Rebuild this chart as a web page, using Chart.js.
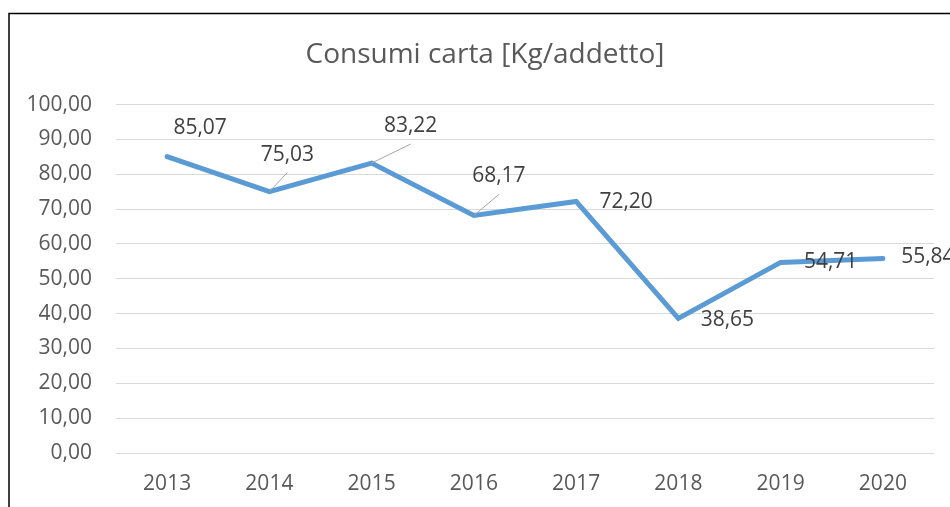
<!DOCTYPE html>
<html>
<head>
<meta charset="utf-8">
<script src="https://cdn.jsdelivr.net/npm/chart.js@4/dist/chart.umd.min.js"></script>
<style>
  html, body { margin: 0; padding: 0; background: #fff; overflow: hidden; }
  #wrap { width: 950px; height: 507px; position: relative; }
</style>
</head>
<body>
<div id="wrap"><canvas id="chart"></canvas></div>
<script>
const years = ['2013', '2014', '2015', '2016', '2017', '2018', '2019', '2020'];
const consumi = [85.07, 75.03, 83.22, 68.17, 72.20, 38.65, 54.71, 55.84];
const yTicks = [0, 10, 20, 30, 40, 50, 60, 70, 80, 90, 100];

// where each value label sits, relative to its point (px), and whether it gets a leader line
const labelOffsets = [[33, -29], [18, -37], [39, -37], [25, -39], [50, 1], [49, 2], [50, 0], [45, -1]];
const hasLeader = [false, true, true, true, false, false, false, false];

const fmt = v => v.toFixed(2).replace('.', ',');
const FONT = "'Open Sans', 'Noto Sans', sans-serif";

const frame = {
    id: 'frame',
    beforeDraw(chart) {
        const ctx = chart.ctx;
        ctx.save();
        ctx.strokeStyle = '#000';
        ctx.lineWidth = 1.5;
        ctx.beginPath();
        ctx.moveTo(9, 520);
        ctx.lineTo(9, 13.5);
        ctx.lineTo(960, 13.5);
        ctx.stroke();
        ctx.restore();
    }
};

// the title in the original is centred on the frame, not on the whole canvas
const titleShift = {
    id: 'titleShift',
    afterLayout(chart) {
        if (chart.titleBlock) chart.titleBlock.left = 36;
    }
};

const valueLabels = {
    id: 'valueLabels',
    afterDatasetsDraw(chart) {
        const ctx = chart.ctx;
        const meta = chart.getDatasetMeta(0);
        ctx.save();
        meta.data.forEach((pt, i) => {
            const [dx, dy] = labelOffsets[i];
            const lx = pt.x + dx, ly = pt.y + dy;
            if (hasLeader[i]) {
                ctx.strokeStyle = '#A6A6A6';
                ctx.lineWidth = 1;
                ctx.beginPath();
                ctx.moveTo(pt.x, pt.y);
                ctx.lineTo(lx, ly + 18);
                ctx.stroke();
            }
            ctx.fillStyle = '#404040';
            ctx.font = `21px ${FONT}`;
            ctx.textAlign = 'center';
            ctx.textBaseline = 'middle';
            ctx.fillText(fmt(consumi[i]), lx, ly);
        });
        ctx.restore();
    }
};

new Chart(document.getElementById('chart'), {
    type: 'line',
    data: {
        labels: years,
        datasets: [{
            label: 'Consumi carta',
            data: consumi,
            borderColor: '#5B9BD5',
            borderWidth: 5,
            borderCapStyle: 'round',
            borderJoinStyle: 'miter',
            pointRadius: 0,
            tension: 0,
            fill: false
        }]
    },
    options: {
        responsive: true,
        maintainAspectRatio: false,
        animation: false,
        layout: { padding: { left: 0, right: 16, top: 0, bottom: 0 } },
        plugins: {
            legend: { display: false },
            tooltip: { enabled: false },
            title: {
                display: true,
                text: 'Consumi carta [Kg/addetto]',
                color: '#595959',
                font: { family: FONT, size: 28, weight: 'normal', lineHeight: 1.2 },
                padding: { top: 38, bottom: 33 }
            }
        },
        scales: {
            x: {
                offset: true,
                grid: { display: false, drawTicks: false },
                border: { display: false },
                ticks: { color: '#595959', font: { family: FONT, size: 21 }, padding: 18, maxRotation: 0 },
                afterFit(scale) { scale.height = 54; }
            },
            y: {
                min: 0,
                max: 100,
                afterBuildTicks(scale) { scale.ticks = yTicks.map(v => ({ value: v })); },
                grid: { color: '#D9D9D9', lineWidth: 1, drawTicks: false },
                border: { display: false },
                ticks: { color: '#595959', font: { family: FONT, size: 21 }, padding: 24, callback: v => fmt(v) },
                afterFit(scale) { scale.width = 116; }
            }
        }
    },
    plugins: [frame, titleShift, valueLabels]
});
</script>
</body>
</html>
